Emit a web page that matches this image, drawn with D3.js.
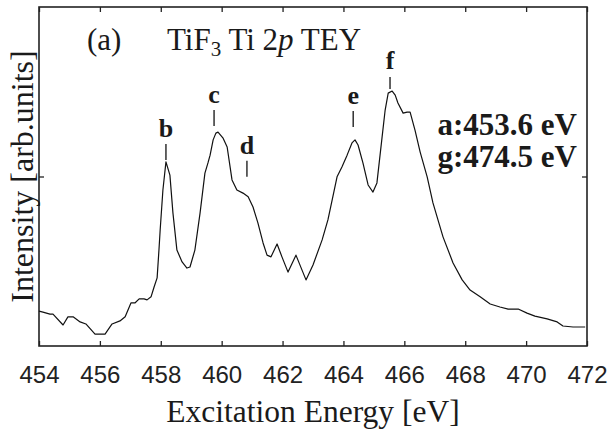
<!DOCTYPE html>
<html>
<head>
<meta charset="utf-8">
<script src="https://cdn.jsdelivr.net/npm/d3@7"></script>
<style>
  body { margin: 0; background: #fff; }
  svg { display: block; }
  .serif { font-family: "Liberation Serif", "Times New Roman", serif; fill: #1a1a1a; }
  .tick-label { font-family: "Liberation Sans", Arial, sans-serif; font-size: 24px; fill: #222; }
</style>
</head>
<body>
<svg id="chart"></svg>
<script>
// Ti 2p TEY spectrum of TiF3 (intensity in arb. units)
const energy = [
  454.00, 454.13, 454.36, 454.46, 454.79, 454.95, 455.12, 455.35, 455.54, 455.84,
  456.00, 456.17, 456.40, 456.66, 456.83, 457.02, 457.15, 457.29, 457.45, 457.55,
  457.68, 457.78, 457.88, 457.94, 457.98, 458.07, 458.17, 458.30, 458.40, 458.53,
  458.70, 458.86, 458.96, 459.12, 459.29, 459.45, 459.55, 459.62, 459.72, 459.81,
  459.88, 460.04, 460.18, 460.34, 460.50, 460.70, 460.87, 461.03, 461.19, 461.36,
  461.49, 461.62, 461.82, 461.98, 462.18, 462.44, 462.77, 463.00, 463.30, 463.49,
  463.63, 463.79, 463.95, 464.12, 464.28, 464.38, 464.48, 464.64, 464.81, 464.97,
  465.10, 465.27, 465.37, 465.47, 465.60, 465.70, 465.79, 465.96, 466.09, 466.19,
  466.35, 466.52, 466.75, 466.94, 467.27, 467.60, 467.90, 468.16, 468.49, 468.82,
  469.14, 469.41, 469.74, 470.03, 470.29, 470.69, 471.02, 471.21, 471.54, 471.94
];
const intensity = [
  1.03, 1.00, 0.94, 0.94, 0.62, 0.86, 0.86, 0.71, 0.65, 0.35,
  0.35, 0.35, 0.65, 0.74, 0.86, 1.27, 1.27, 1.39, 1.39, 1.36,
  1.45, 1.74, 2.01, 2.83, 3.42, 4.60, 5.43, 5.04, 3.92, 2.83,
  2.48, 2.30, 2.33, 2.83, 3.92, 5.10, 5.40, 5.63, 6.08, 6.28,
  6.31, 6.14, 5.87, 4.90, 4.60, 4.51, 4.40, 4.10, 3.63, 3.04,
  2.68, 2.63, 3.01, 2.63, 2.18, 2.68, 1.95, 2.39, 3.13, 3.72,
  4.31, 4.99, 5.28, 5.63, 5.99, 6.08, 5.93, 5.40, 4.75, 4.54,
  4.81, 6.17, 6.96, 7.46, 7.52, 7.40, 7.17, 6.87, 6.90, 6.90,
  6.37, 5.72, 4.99, 4.22, 3.22, 2.45, 1.95, 1.65, 1.45, 1.24,
  1.15, 1.09, 1.09, 0.97, 0.88, 0.80, 0.71, 0.59, 0.56, 0.56
];

// peak markers: label, energy, intensity at the bottom of the marker line
const peakLabels = ["b", "c", "d", "e", "f"];
const peakEnergy = [458.17, 459.75, 460.83, 464.32, 465.53];
const peakLevel = [5.49, 6.49, 4.99, 6.46, 7.58];

const xTicks = [454, 456, 458, 460, 462, 464, 466, 468, 470, 472];
const yTicks = [5];
const edgeNotes = ["a:453.6 eV", "g:474.5 eV"];

const config = {
  containerWidth: 610,
  containerHeight: 435,
  margin: { top: 7, right: 23, bottom: 89, left: 39 },
  tickLength: 5,
};

const width = config.containerWidth - config.margin.left - config.margin.right;
const height = config.containerHeight - config.margin.top - config.margin.bottom;

const xScale = d3.scaleLinear().domain([454, 472]).range([0, width]);
const yScale = d3.scaleLinear().domain([0, 10]).range([height, 0]);

const svg = d3
  .select("#chart")
  .attr("width", config.containerWidth)
  .attr("height", config.containerHeight);

const chart = svg
  .append("g")
  .attr("transform", `translate(${config.margin.left},${config.margin.top})`);

// axes: ticks pointing inward on all four sides
const xBottom = d3.axisBottom(xScale).tickValues(xTicks).tickSize(-config.tickLength).tickFormat(d3.format("d"));
const xTop = d3.axisTop(xScale).tickValues(xTicks).tickSize(-config.tickLength).tickFormat("");
const yLeft = d3.axisLeft(yScale).tickValues(yTicks).tickSize(-config.tickLength).tickFormat("");
const yRight = d3.axisRight(yScale).tickValues(yTicks).tickSize(-config.tickLength).tickFormat("");

const gBottom = chart.append("g").attr("transform", `translate(0,${height})`).call(xBottom);
chart.append("g").call(xTop);
chart.append("g").call(yLeft);
chart.append("g").attr("transform", `translate(${width},0)`).call(yRight);

chart.selectAll(".domain").remove();
chart.selectAll(".tick line").attr("stroke", "#222").attr("stroke-width", 1.3);
gBottom.selectAll(".tick text")
  .attr("class", "tick-label")
  .attr("dy", null)
  .attr("y", 37);

// frame
chart.append("rect")
  .attr("width", width)
  .attr("height", height)
  .attr("fill", "none")
  .attr("stroke", "#222")
  .attr("stroke-width", 1.6);

// spectrum
const points = energy.map((e, i) => ({ e, v: intensity[i] }));
const line = d3.line()
  .x((d) => xScale(d.e))
  .y((d) => yScale(d.v));

chart.append("path")
  .datum(points)
  .attr("fill", "none")
  .attr("stroke", "#111")
  .attr("stroke-width", 1.2)
  .attr("stroke-linejoin", "round")
  .attr("d", line);

// peak markers
const peaks = peakLabels.map((label, i) => ({ label, e: peakEnergy[i], v: peakLevel[i] }));
const peakG = chart.selectAll(".peak")
  .data(peaks)
  .join("g")
  .attr("class", "peak")
  .attr("transform", (d) => `translate(${xScale(d.e)},${yScale(d.v)})`);

peakG.append("line")
  .attr("y1", 0)
  .attr("y2", (d) => (d.label === "f" ? -12 : -16))
  .attr("stroke", "#111")
  .attr("stroke-width", 1.3);

peakG.append("text")
  .attr("class", "serif")
  .attr("text-anchor", "middle")
  .attr("y", (d) => (d.label === "f" ? -20 : -23))
  .style("font-size", "26px")
  .style("font-weight", "bold")
  .text((d) => d.label);

// title
const title = chart.append("text")
  .attr("class", "serif")
  .attr("x", 48)
  .attr("y", 43)
  .style("font-size", "31px");
title.append("tspan").text("(a)");
title.append("tspan").attr("x", 128).text("TiF");
title.append("tspan").attr("dy", 6).style("font-size", "21px").text("3");
title.append("tspan").attr("dy", -6).text(" Ti 2");
title.append("tspan").style("font-style", "italic").text("p");
title.append("tspan").text(" TEY");

// edge energies
chart.selectAll(".edge-note")
  .data(edgeNotes)
  .join("text")
  .attr("class", "serif edge-note")
  .attr("text-anchor", "end")
  .attr("x", width - 10)
  .attr("y", (d, i) => 128 + i * 32)
  .style("font-size", "31px")
  .style("font-weight", "bold")
  .text((d) => d);

// axis titles
svg.append("text")
  .attr("class", "serif")
  .attr("text-anchor", "middle")
  .attr("x", config.margin.left + width / 2)
  .attr("y", 422)
  .style("font-size", "31.5px")
  .text("Excitation Energy [eV]");

svg.append("text")
  .attr("class", "serif")
  .attr("text-anchor", "middle")
  .attr("transform", `translate(33,${config.margin.top + height / 2}) rotate(-90)`)
  .style("font-size", "32px")
  .text("Intensity [arb.units]");
</script>
</body>
</html>
